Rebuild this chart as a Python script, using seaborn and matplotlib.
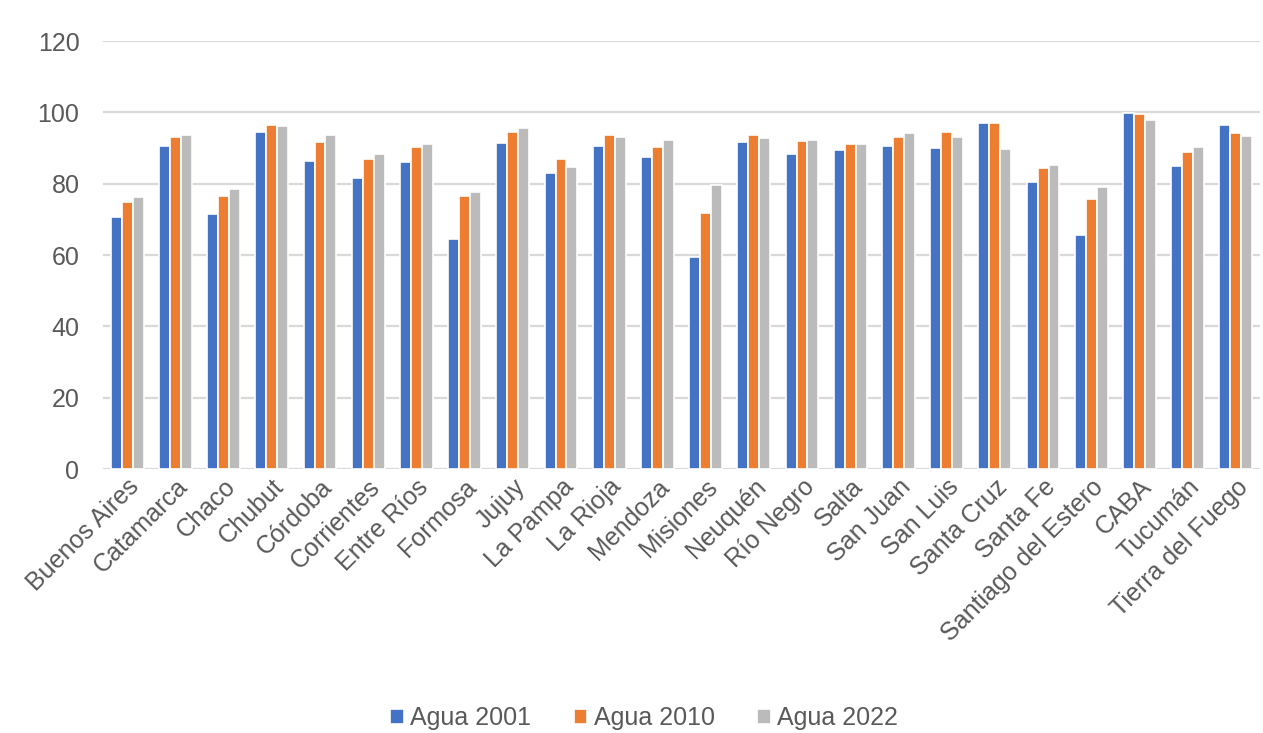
"""Acceso a agua por provincia: 2001, 2010, 2022"""

import matplotlib

matplotlib.use("Agg")
import matplotlib.pyplot as plt
import pandas as pd
import seaborn as sns

# %% Data

provincias = [
    "Buenos Aires", "Catamarca", "Chaco", "Chubut", "Córdoba", "Corrientes",
    "Entre Ríos", "Formosa", "Jujuy", "La Pampa", "La Rioja", "Mendoza",
    "Misiones", "Neuquén", "Río Negro", "Salta", "San Juan", "San Luis",
    "Santa Cruz", "Santa Fe", "Santiago del Estero", "CABA", "Tucumán",
    "Tierra del Fuego",
]
agua_2001 = [
    70.7, 90.6, 71.5, 94.4, 86.3, 81.6, 86.2, 64.5, 91.4, 83.0, 90.6, 87.5,
    59.4, 91.6, 88.3, 89.5, 90.7, 90.0, 97.0, 80.6, 65.6, 99.9, 85.0, 96.5,
]
agua_2010 = [
    75.0, 93.1, 76.5, 96.4, 91.8, 87.0, 90.2, 76.7, 94.4, 86.9, 93.8, 90.3,
    71.8, 93.6, 92.0, 91.1, 93.1, 94.4, 97.0, 84.3, 75.8, 99.5, 88.9, 94.1,
]
agua_2022 = [
    76.3, 93.8, 78.5, 96.1, 93.8, 88.3, 91.0, 77.7, 95.6, 84.7, 93.2, 92.4,
    79.6, 92.8, 92.2, 91.2, 94.3, 93.2, 89.6, 85.2, 79.1, 97.9, 90.2, 93.5,
]
series = ["Agua 2001", "Agua 2010", "Agua 2022"]
colores = ["#4472C4", "#ED7D31", "#BBBBBB"]

data = pd.DataFrame(
    {
        "provincia": provincias * 3,
        "valor": agua_2001 + agua_2010 + agua_2022,
        "serie": [s for s in series for _ in provincias],
    }
)

# %% Plot

sns.set_style("white")
plt.rcParams["font.family"] = ["Liberation Sans", "DejaVu Sans"]
gris = "#595959"

fig = plt.figure(figsize=(12.63, 7.33), dpi=100)
ax = fig.add_axes([0.0816, 0.360, 0.916, 0.584])

sns.barplot(
    data,
    x="provincia",
    y="valor",
    hue="serie",
    palette=colores,
    saturation=1,
    width=0.68,
    edgecolor="white",
    linewidth=1.2,
    ax=ax,
    zorder=3,
)

ax.set_ylim(0, 120)
ax.set_yticks(range(0, 121, 20))
ax.set_xlim(-0.5, len(provincias) - 0.5)
ax.grid(axis="y", color="#D9D9D9", linewidth=1.6, zorder=0)
ax.set_axisbelow(True)
for side in ["left", "right", "top", "bottom"]:
    ax.spines[side].set_visible(False)
ax.set(xlabel="", ylabel="")
ax.tick_params(axis="both", length=0, labelsize=18, colors=gris)
ax.tick_params(axis="y", pad=17)
ax.tick_params(axis="x", pad=4)
plt.setp(
    ax.get_xticklabels(), rotation=45, ha="right", rotation_mode="anchor"
)

ax.legend(
    loc="lower center",
    bbox_to_anchor=(0.51, -0.027),
    bbox_transform=fig.transFigure,
    ncol=3,
    frameon=False,
    fontsize=18,
    labelcolor=gris,
    handlelength=0.55,
    handleheight=0.55,
    handletextpad=0.25,
    columnspacing=1.7,
)

fig.savefig("out.png", dpi=100)
